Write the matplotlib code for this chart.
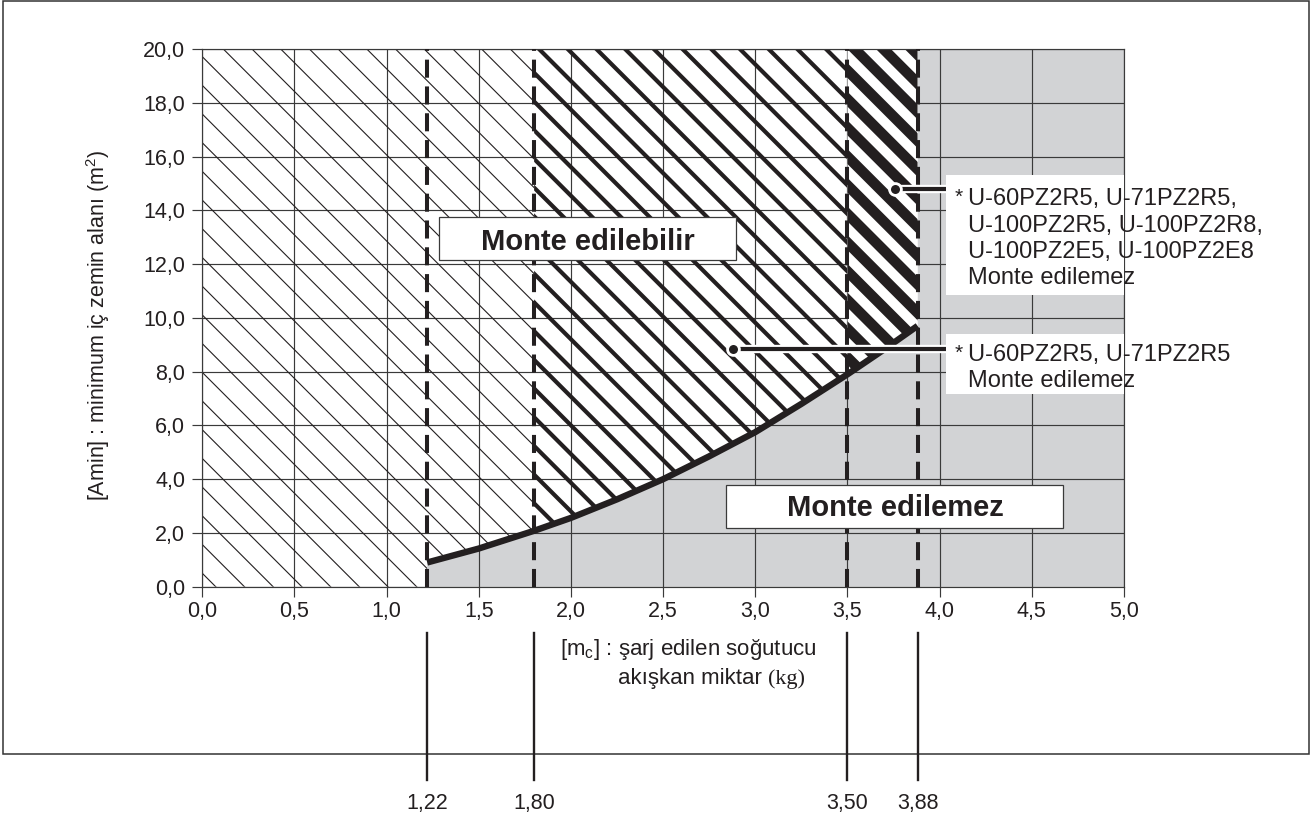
import matplotlib
matplotlib.use("Agg")
import matplotlib.pyplot as plt
import matplotlib.patheffects as pe
from matplotlib.patches import Polygon, Rectangle
from matplotlib.collections import LineCollection
from matplotlib.lines import Line2D
from matplotlib.transforms import IdentityTransform, blended_transform_factory

plt.rcParams['font.family'] = ['Liberation Sans', 'DejaVu Sans']
plt.rcParams['mathtext.default'] = 'regular'
plt.rcParams['lines.scale_dashes'] = False

## data
mc = [1.22, 1.5, 1.8, 2.0, 2.25, 2.5, 2.75, 3.0, 3.25, 3.5, 3.7, 3.88]          # charge (kg)
amin = [0.9, 1.42, 2.08, 2.56, 3.25, 4.0, 4.85, 5.75, 6.8, 7.9, 8.83, 9.7]     # min floor area (m2)
limits = [1.22, 1.80, 3.50, 3.88]
limit_labels = ['1,22', '1,80', '3,50', '3,88']
x_ticks = [0.0, 0.5, 1.0, 1.5, 2.0, 2.5, 3.0, 3.5, 4.0, 4.5, 5.0]
x_tick_labels = ['0,0', '0,5', '1,0', '1,5', '2,0', '2,5', '3,0', '3,5', '4,0', '4,5', '5,0']
y_ticks = [0, 2, 4, 6, 8, 10, 12, 14, 16, 18, 20]
y_tick_labels = ['0,0', '2,0', '4,0', '6,0', '8,0', '10,0', '12,0', '14,0', '16,0', '18,0', '20,0']
note_all = ['U-60PZ2R5, U-71PZ2R5,', 'U-100PZ2R5, U-100PZ2R8,', 'U-100PZ2E5, U-100PZ2E8', 'Monte edilemez']
note_small = ['U-60PZ2R5, U-71PZ2R5', 'Monte edilemez']

W, H = 1311, 817
ink = '#231f20'
grid_c = '#3a3a3a'

fig = plt.figure(figsize=(W / 100, H / 100), dpi=100)
ax = fig.add_axes([202.3 / W, 1 - 586.7 / H, (1124 - 202.3) / W, (586.7 - 49) / H])
ax.set_xlim(0, 5)
ax.set_ylim(0, 20)
ax.set_axisbelow(True)
ax.grid(True, color=grid_c, lw=0.85)
for s in ax.spines.values():
    s.set_color(grid_c)
    s.set_linewidth(0.85)
ax.set_xticks(x_ticks, x_tick_labels)
ax.set_yticks(y_ticks, y_tick_labels)
ax.tick_params(direction='out', length=7.2, width=0.85, color=grid_c, labelsize=15.5, labelcolor=ink)
ax.tick_params(axis='x', pad=3)
ax.tick_params(axis='y', pad=5)

def curve_part(lo, hi):
    return [(x, y) for x, y in zip(mc, amin) if lo - 1e-9 <= x <= hi + 1e-9]

# grey "not allowed" zone
grey = [(mc[0], 0)] + list(zip(mc, amin)) + [(mc[-1], 20), (5, 20), (5, 0)]
ax.add_patch(Polygon(grey, closed=True, facecolor='#d2d3d5', edgecolor='none', zorder=0.2))

# hatched zones
thin = [(0, 0), (mc[0], 0)] + curve_part(mc[0], limits[1]) + [(limits[1], 20), (0, 20)]
mid = curve_part(limits[1], limits[2]) + [(limits[2], 20), (limits[1], 20)]
thick = curve_part(limits[2], limits[3]) + [(limits[3], 20), (limits[2], 20)]

p_thin = Polygon(thin, closed=True, facecolor='none', edgecolor='none', zorder=1)
p_mid = Polygon(mid, closed=True, facecolor='none', edgecolor='none', zorder=1)
p_thick = Polygon(thick, closed=True, facecolor='white', edgecolor='none', zorder=1.5)
for p in (p_thin, p_mid, p_thick):
    ax.add_patch(p)

# hatch lines running down to the right, built in pixel space
segs = []
for k in range(-22, 36):
    d = -174.3 - k * 28.7
    segs.append([(100, H - (100 + d)), (1250, H - (1250 + d))])
for patch, lw, z in ((p_thin, 0.8, 1.2), (p_mid, 3.0, 1.2), (p_thick, 7.6, 1.6)):
    lc = LineCollection(segs, colors=ink, linewidths=lw, transform=IdentityTransform(), zorder=z)
    ax.add_collection(lc, autolim=False)
    lc.set_clip_path(patch)

for v in limits:
    ax.axvline(v, color=ink, lw=2.9, ls=(0, (13, 6.3)), zorder=4)

ax.plot(mc, amin, color=ink, lw=4.6, zorder=5, solid_capstyle='butt', solid_joinstyle='round')

# labelled boxes
ax.add_patch(Rectangle((1.286, 12.15), 1.608, 1.61, facecolor='white', edgecolor=grid_c, lw=0.9, zorder=6))
ax.text(2.09, 12.53, 'Monte edilebilir', fontsize=21, fontweight='bold', color=ink,
        ha='center', va='baseline', zorder=7)
ax.add_patch(Rectangle((2.84, 2.17), 1.83, 1.62, facecolor='white', edgecolor=grid_c, lw=0.9, zorder=6))
ax.text(3.759, 2.63, 'Monte edilemez', fontsize=21, fontweight='bold', color=ink,
        ha='center', va='baseline', zorder=7)

# callouts
ax.add_patch(Rectangle((4.035, 10.85), 0.965, 4.47, facecolor='white', edgecolor='none', zorder=6))
ax.add_patch(Rectangle((4.035, 7.16), 0.965, 2.24, facecolor='white', edgecolor='none', zorder=6))
halo = [pe.Stroke(linewidth=6, foreground='white'), pe.Normal()]
for x0, y0 in ((3.758, 14.79), (2.878, 8.83)):
    ax.plot([x0, 4.035], [y0, y0], color=ink, lw=3, zorder=7, path_effects=halo, solid_capstyle='butt')
    ax.plot([x0], [y0], 'o', ms=8.5, color=ink, mec='white', mew=2, zorder=8)

def fx(x):
    return x / W

def fy(y):
    return 1 - y / H

for i, line in enumerate(note_all):
    fig.text(fx(968), fy(205.2 + i * 26.4), line, fontsize=17, color=ink, va='baseline')
fig.text(fx(958.5), fy(203), '*', fontsize=15, color=ink, ha='center', va='baseline')
for i, line in enumerate(note_small):
    fig.text(fx(968), fy(361.2 + i * 25.6), line, fontsize=17, color=ink, va='baseline')
fig.text(fx(958.5), fy(359), '*', fontsize=15, color=ink, ha='center', va='baseline')

# axis titles
fig.text(fx(98), fy(325), '[Amin] : minimum iç zemin alanı (m$^{2}$)', rotation=90,
         fontsize=15.5, color=ink, ha='center', va='center')
fig.text(fx(560), fy(654.5), '[m$_{c}$] : şarj edilen soğutucu', fontsize=16, color=ink, va='baseline')
t2 = fig.text(fx(618), fy(684), 'akışkan miktar ', fontsize=16, color=ink, va='baseline')
fig.texts.append(plt.Annotation('(kg)', xy=(1, 0), xycoords=t2, va='bottom', ha='left',
                                fontsize=16, color=ink, family='Liberation Serif'))
fig.texts[-1].set_figure(fig)

# outer frame and limit markers below
fig.add_artist(Rectangle((3 / W, fy(754)), 1306 / W, 753 / H, transform=fig.transFigure,
                         fill=False, edgecolor='#333333', lw=1.1))
bt = blended_transform_factory(ax.transData, fig.transFigure)
for v, lab in zip(limits, limit_labels):
    fig.add_artist(Line2D([v, v], [fy(633), fy(780)], transform=bt, color=ink, lw=1.7))
    ax.text(v, fy(808.5), lab, transform=bt, fontsize=15.5, color=ink, ha='center', va='baseline', clip_on=False)

fig.savefig('out.png', dpi=100)
